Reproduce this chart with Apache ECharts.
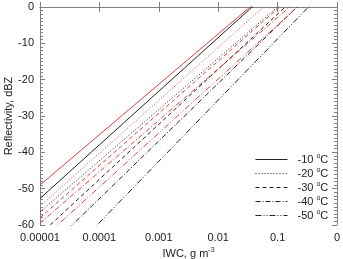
<!DOCTYPE html>
<html>
<head>
<meta charset="utf-8">
<script src="https://cdn.jsdelivr.net/npm/echarts@6/dist/echarts.min.js"></script>
<style>
  html, body { margin: 0; padding: 0; background: #fff; }
  #chart { width: 343px; height: 259px; }
</style>
</head>
<body>
<div id="chart"></div>
<script>
// IWC end points (g m-3) and reflectivity (dBZ) at those ends
var iwcEnds = [0.00001, 1];
var temps = ["-10", "-20", "-30", "-40", "-50"];
var blackZ = [
  [-52.7, 21.1],
  [-56.4, 14.1],
  [-62.6, 13.2],
  [-68.6, 10.7],
  [-76.2, 8.1]
];
var redZ = [
  [-49.0, 20.3],
  [-54.8, 18.0],
  [-58.0, 13.9],
  [-59.5, 11.3],
  [-64.4, 9.9]
];
var xTickLabels = ["0.00001", "0.0001", "0.001", "0.01", "0.1", "0"];
var dashes = ["solid", [1, 2], [4, 3], [5, 2, 1, 2], [6, 2, 1, 2, 1, 2]];

var chart = echarts.init(document.getElementById("chart"));
var font = "Liberation Sans, Arial, sans-serif";
var axisColor = "#808080";
var supStyle = { fontSize: 7, verticalAlign: "top", padding: [0, 0, 6, 0], fontFamily: font, color: "#222" };

function pts(z) {
  return iwcEnds.map(function (x, i) { return [x, z[i]]; });
}

var series = [];
temps.forEach(function (t, i) {
  series.push({
    name: t, type: "line", data: pts(blackZ[i]), symbol: "none", silent: true,
    lineStyle: { color: "#222", width: 1, type: dashes[i] }, itemStyle: { color: "#222" }, clip: true
  });
});
temps.forEach(function (t, i) {
  series.push({
    name: "r" + t, type: "line", data: pts(redZ[i]), symbol: "none", silent: true,
    lineStyle: { color: "#e0403a", width: 1, type: dashes[i] }, itemStyle: { color: "#e0403a" }, clip: true
  });
});

chart.setOption({
  animation: false,
  grid: { left: 40, top: 7, right: 6, bottom: 34, outerBoundsMode: "none", containLabel: false },
  legend: {
    data: temps,
    orient: "vertical",
    left: 250,
    top: 148,
    itemWidth: 32,
    itemHeight: 10,
    itemGap: 1,
    selectedMode: false,
    itemStyle: { opacity: 0 },
    lineStyle: { width: 1 },
    formatter: function (n) { return n + " {sup|o}C"; },
    textStyle: { fontFamily: font, fontSize: 11, color: "#222", lineHeight: 13, padding: [0, 0, 0, 5], rich: { sup: supStyle } }
  },
  xAxis: [{
    type: "log", logBase: 10, min: 0.00001, max: 1,
    name: "IWC, g m{sup|-3}", nameLocation: "middle", nameGap: 22, nameMoveOverlap: false,
    nameTextStyle: { fontFamily: font, fontSize: 11, color: "#222", rich: { sup: supStyle } },
    axisLine: { show: true, lineStyle: { color: axisColor } },
    axisTick: { show: true, inside: true, length: 5, lineStyle: { color: axisColor } },
    minorTick: { show: false },
    splitLine: { show: false },
    axisLabel: {
      fontFamily: font, fontSize: 11, color: "#222", margin: 7,
      formatter: function (v) { return xTickLabels[Math.round(Math.log10(v)) + 5]; }
    }
  }, {
    type: "log", logBase: 10, min: 0.00001, max: 1, position: "top",
    axisLine: { show: true, lineStyle: { color: axisColor } },
    axisTick: { show: true, inside: true, length: 5, lineStyle: { color: axisColor } },
    axisLabel: { show: false }, splitLine: { show: false }
  }],
  yAxis: [{
    type: "value", min: -60, max: 0, interval: 10,
    name: "Reflectivity, dBZ", nameLocation: "middle", nameGap: 26, nameMoveOverlap: false,
    nameTextStyle: { fontFamily: font, fontSize: 11, color: "#222" },
    axisLine: { show: true, lineStyle: { color: axisColor } },
    axisTick: { show: true, inside: true, length: 5, lineStyle: { color: axisColor } },
    minorTick: { show: true, splitNumber: 10, length: 3, lineStyle: { color: axisColor } },
    splitLine: { show: false },
    axisLabel: { fontFamily: font, fontSize: 11, color: "#222", margin: 6 }
  }, {
    type: "value", min: -60, max: 0, interval: 10, position: "right",
    axisLine: { show: true, lineStyle: { color: axisColor } },
    axisTick: { show: true, inside: true, length: 5, lineStyle: { color: axisColor } },
    minorTick: { show: true, splitNumber: 10, length: 3, lineStyle: { color: axisColor } },
    splitLine: { show: false },
    axisLabel: { show: false }
  }],
  series: series
});
</script>
</body>
</html>
